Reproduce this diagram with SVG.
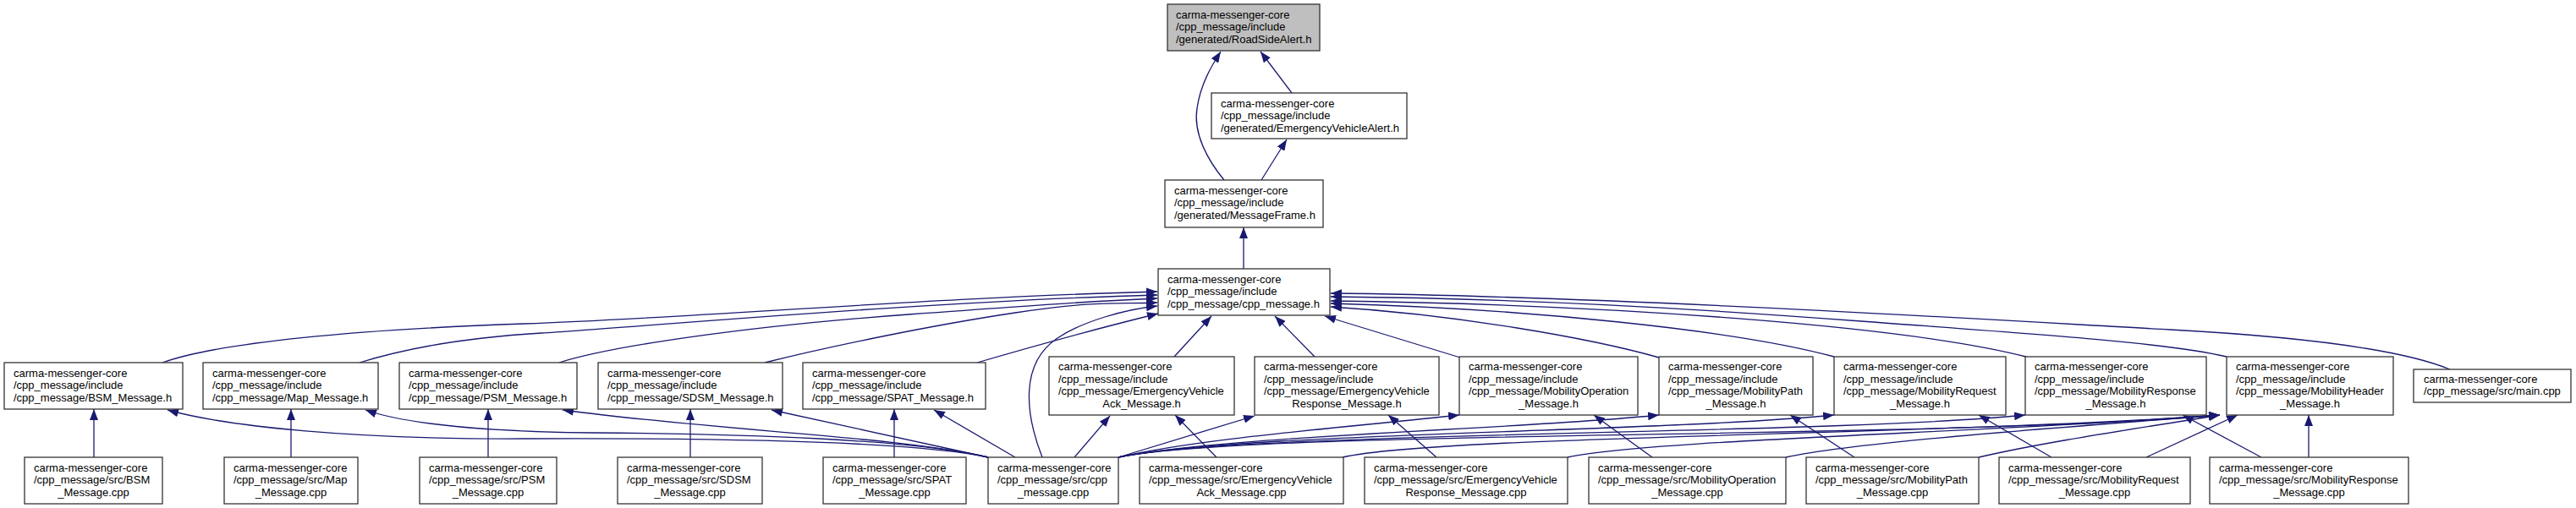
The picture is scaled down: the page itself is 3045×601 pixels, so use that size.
<svg xmlns="http://www.w3.org/2000/svg" width="3045" height="601" viewBox="0 0 3045 601">
<style>
rect{fill:#fff;stroke:#333;stroke-width:1.3}
.root rect{fill:#bfbfbf}
text{font-family:"Liberation Sans",Arial,sans-serif;font-size:13px;fill:#000}
.m{text-anchor:middle}
#edges path{fill:none;stroke:#191970;stroke-width:1.3;marker-end:url(#ah)}
</style>
<defs>
<marker id="ah" viewBox="0 0 13 10" markerWidth="13" markerHeight="10" refX="13" refY="5" orient="auto" markerUnits="userSpaceOnUse"><path d="M0,0 L13,5 L0,10 z" fill="#191970"/></marker>
</defs>
<rect x="0" y="0" width="3045" height="601" style="fill:#fff;stroke:none"/>
<g id="edges">
<path d="M1527,110 L1490,61"/>
<path d="M1447,213 C1428,190 1410,158 1415,128 C1419,100 1432,78 1443,61"/>
<path d="M1491,213 L1521,165"/>
<path d="M1470,318 L1470,269"/>
<path d="M192,429 C260,405 420,390 620,383 S1100,352 1368,345"/>
<path d="M425,429 C470,415 540,400 640,394 S1100,356 1368,349"/>
<path d="M661,429 C720,410 880,386 1074,372 S1300,356 1368,353"/>
<path d="M904,429 C980,410 1100,385 1200,370 S1320,360 1368,358"/>
<path d="M1155,429 C1220,410 1300,388 1369,371"/>
<path d="M1232,541 C1212,490 1205,430 1250,400 C1280,380 1330,366 1368,362"/>
<path d="M1388,422 L1432,374"/>
<path d="M1554,422 L1507,374"/>
<path d="M1726,423 L1566,374"/>
<path d="M1961,423 C1880,400 1720,372 1573,363"/>
<path d="M2168,422 C2050,390 1800,365 1573,359"/>
<path d="M2395,422 C2250,385 1900,360 1573,356"/>
<path d="M2632,422 C2560,405 2400,395 2200,380 S1800,353 1573,351"/>
<path d="M2896,437 C2850,418 2750,400 2565,390 S1900,350 1573,347"/>
<path d="M1168,541 C1080,522 850,518 620,519 C420,520 270,505 198,485"/>
<path d="M1168,541 C1080,520 880,513 700,512 C580,511 480,502 432,485"/>
<path d="M1168,541 C1060,516 850,510 665,485"/>
<path d="M1168,541 L912,485"/>
<path d="M1200,541 L1104,485"/>
<path d="M1270,541 L1312,492"/>
<path d="M1322,541 L1483,492"/>
<path d="M1322,541 C1420,518 1600,505 1725,491"/>
<path d="M1322,541 C1450,515 1800,508 1961,491"/>
<path d="M1322,541 C1460,512 1950,512 2168,491"/>
<path d="M1322,541 C1470,510 2150,515 2394,491"/>
<path d="M1322,541 C1480,508 2300,520 2624,491"/>
<path d="M1587,541 C1700,515 2300,515 2624,491"/>
<path d="M1853,541 C1950,520 2350,512 2624,491"/>
<path d="M2111,541 C2200,522 2450,505 2624,491"/>
<path d="M2339,541 C2420,522 2540,505 2624,491"/>
<path d="M2537,541 L2645,491"/>
<path d="M2729,541 L2729,491"/>
<path d="M111,541 L111,484"/>
<path d="M344,541 L344,484"/>
<path d="M577,541 L577,484"/>
<path d="M816,541 L816,484"/>
<path d="M1057,541 L1057,484"/>
<path d="M1438,541 L1389,491"/>
<path d="M1698,541 L1641,491"/>
<path d="M1953,541 L1884,491"/>
<path d="M2192,541 L2116,491"/>
<path d="M2425,541 L2339,491"/>
<path d="M2673,541 L2580,491"/>
</g>
<g id="rsa" class="root"><rect x="1380" y="5" width="180" height="55"/><text x="1390" y="21.5">carma-messenger-core</text><text x="1390" y="36">/cpp_message/include</text><text x="1390" y="50.5">/generated/RoadSideAlert.h</text></g>
<g id="eva"><rect x="1432" y="110" width="231" height="54"/><text x="1443" y="126.5">carma-messenger-core</text><text x="1443" y="141">/cpp_message/include</text><text x="1443" y="155.5">/generated/EmergencyVehicleAlert.h</text></g>
<g id="mf"><rect x="1377" y="213" width="187" height="56"/><text x="1388" y="229.5">carma-messenger-core</text><text x="1388" y="244">/cpp_message/include</text><text x="1388" y="258.5">/generated/MessageFrame.h</text></g>
<g id="cpph"><rect x="1369" y="318" width="203" height="55"/><text x="1380" y="334.5">carma-messenger-core</text><text x="1380" y="349">/cpp_message/include</text><text x="1380" y="363.5">/cpp_message/cpp_message.h</text></g>
<g id="bsmh"><rect x="5" y="429" width="211" height="55"/><text x="16" y="445.5">carma-messenger-core</text><text x="16" y="460">/cpp_message/include</text><text x="16" y="474.5">/cpp_message/BSM_Message.h</text></g>
<g id="maph"><rect x="240" y="429" width="207" height="55"/><text x="251" y="445.5">carma-messenger-core</text><text x="251" y="460">/cpp_message/include</text><text x="251" y="474.5">/cpp_message/Map_Message.h</text></g>
<g id="psmh"><rect x="472" y="429" width="210" height="55"/><text x="483" y="445.5">carma-messenger-core</text><text x="483" y="460">/cpp_message/include</text><text x="483" y="474.5">/cpp_message/PSM_Message.h</text></g>
<g id="sdsmh"><rect x="707" y="429" width="218" height="55"/><text x="718" y="445.5">carma-messenger-core</text><text x="718" y="460">/cpp_message/include</text><text x="718" y="474.5">/cpp_message/SDSM_Message.h</text></g>
<g id="spath"><rect x="949" y="429" width="216" height="55"/><text x="960" y="445.5">carma-messenger-core</text><text x="960" y="460">/cpp_message/include</text><text x="960" y="474.5">/cpp_message/SPAT_Message.h</text></g>
<g id="evackh"><rect x="1240" y="422" width="219" height="69"/><text x="1251" y="438">carma-messenger-core</text><text x="1251" y="452.5">/cpp_message/include</text><text x="1251" y="467">/cpp_message/EmergencyVehicle</text><text class="m" x="1349.5" y="481.5">Ack_Message.h</text></g>
<g id="evresph"><rect x="1483" y="422" width="218" height="69"/><text x="1494" y="438">carma-messenger-core</text><text x="1494" y="452.5">/cpp_message/include</text><text x="1494" y="467">/cpp_message/EmergencyVehicle</text><text class="m" x="1592" y="481.5">Response_Message.h</text></g>
<g id="mobopph"><rect x="1725" y="422" width="211" height="69"/><text x="1736" y="438">carma-messenger-core</text><text x="1736" y="452.5">/cpp_message/include</text><text x="1736" y="467">/cpp_message/MobilityOperation</text><text class="m" x="1830.5" y="481.5">_Message.h</text></g>
<g id="mobpathh"><rect x="1961" y="422" width="182" height="69"/><text x="1972" y="438">carma-messenger-core</text><text x="1972" y="452.5">/cpp_message/include</text><text x="1972" y="467">/cpp_message/MobilityPath</text><text class="m" x="2052" y="481.5">_Message.h</text></g>
<g id="mobreqh"><rect x="2168" y="422" width="203" height="69"/><text x="2179" y="438">carma-messenger-core</text><text x="2179" y="452.5">/cpp_message/include</text><text x="2179" y="467">/cpp_message/MobilityRequest</text><text class="m" x="2269.5" y="481.5">_Message.h</text></g>
<g id="mobresph"><rect x="2394" y="422" width="214" height="69"/><text x="2405" y="438">carma-messenger-core</text><text x="2405" y="452.5">/cpp_message/include</text><text x="2405" y="467">/cpp_message/MobilityResponse</text><text class="m" x="2501" y="481.5">_Message.h</text></g>
<g id="mobhdrh"><rect x="2632" y="422" width="197" height="69"/><text x="2643" y="438">carma-messenger-core</text><text x="2643" y="452.5">/cpp_message/include</text><text x="2643" y="467">/cpp_message/MobilityHeader</text><text class="m" x="2730.5" y="481.5">_Message.h</text></g>
<g id="maincpp"><rect x="2853" y="437" width="186" height="39"/><text x="2865" y="452.5">carma-messenger-core</text><text x="2865" y="467">/cpp_message/src/main.cpp</text></g>
<g id="bsmc"><rect x="29" y="541" width="163" height="55"/><text x="40" y="557.5">carma-messenger-core</text><text x="40" y="572">/cpp_message/src/BSM</text><text class="m" x="110.5" y="586.5">_Message.cpp</text></g>
<g id="mapc"><rect x="265" y="541" width="158" height="55"/><text x="276" y="557.5">carma-messenger-core</text><text x="276" y="572">/cpp_message/src/Map</text><text class="m" x="344" y="586.5">_Message.cpp</text></g>
<g id="psmc"><rect x="496" y="541" width="162" height="55"/><text x="507" y="557.5">carma-messenger-core</text><text x="507" y="572">/cpp_message/src/PSM</text><text class="m" x="577" y="586.5">_Message.cpp</text></g>
<g id="sdsmc"><rect x="730" y="541" width="171" height="55"/><text x="741" y="557.5">carma-messenger-core</text><text x="741" y="572">/cpp_message/src/SDSM</text><text class="m" x="815.5" y="586.5">_Message.cpp</text></g>
<g id="spatc"><rect x="973" y="541" width="169" height="55"/><text x="984" y="557.5">carma-messenger-core</text><text x="984" y="572">/cpp_message/src/SPAT</text><text class="m" x="1057.5" y="586.5">_Message.cpp</text></g>
<g id="cppc"><rect x="1168" y="541" width="154" height="55"/><text x="1179" y="557.5">carma-messenger-core</text><text x="1179" y="572">/cpp_message/src/cpp</text><text class="m" x="1245" y="586.5">_message.cpp</text></g>
<g id="evackc"><rect x="1347" y="541" width="241" height="55"/><text x="1358" y="557.5">carma-messenger-core</text><text x="1358" y="572">/cpp_message/src/EmergencyVehicle</text><text class="m" x="1467.5" y="586.5">Ack_Message.cpp</text></g>
<g id="evrespc"><rect x="1613" y="541" width="240" height="55"/><text x="1624" y="557.5">carma-messenger-core</text><text x="1624" y="572">/cpp_message/src/EmergencyVehicle</text><text class="m" x="1733" y="586.5">Response_Message.cpp</text></g>
<g id="mobopc"><rect x="1878" y="541" width="233" height="55"/><text x="1889" y="557.5">carma-messenger-core</text><text x="1889" y="572">/cpp_message/src/MobilityOperation</text><text class="m" x="1994.5" y="586.5">_Message.cpp</text></g>
<g id="mobpathc"><rect x="2135" y="541" width="204" height="55"/><text x="2146" y="557.5">carma-messenger-core</text><text x="2146" y="572">/cpp_message/src/MobilityPath</text><text class="m" x="2237" y="586.5">_Message.cpp</text></g>
<g id="mobreqc"><rect x="2363" y="541" width="226" height="55"/><text x="2374" y="557.5">carma-messenger-core</text><text x="2374" y="572">/cpp_message/src/MobilityRequest</text><text class="m" x="2476" y="586.5">_Message.cpp</text></g>
<g id="mobrespc"><rect x="2612" y="541" width="235" height="55"/><text x="2623" y="557.5">carma-messenger-core</text><text x="2623" y="572">/cpp_message/src/MobilityResponse</text><text class="m" x="2729.5" y="586.5">_Message.cpp</text></g>
</svg>
